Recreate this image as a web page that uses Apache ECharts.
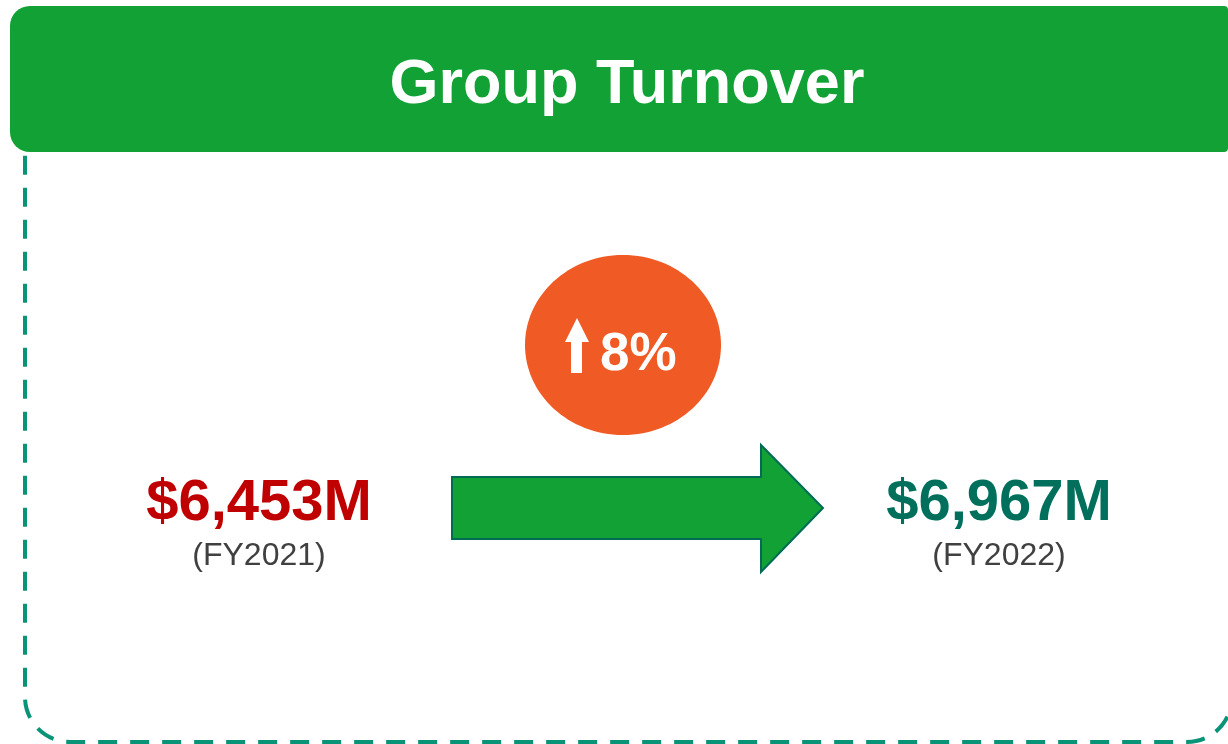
<!DOCTYPE html>
<html>
<head>
<meta charset="utf-8">
<title>Group Turnover</title>
<script src="https://cdn.jsdelivr.net/npm/echarts@6/dist/echarts.min.js"></script>
<style>
  html, body { margin: 0; padding: 0; background: #fff; }
  #main { width: 1228px; height: 744px; }
</style>
</head>
<body>
<div id="main"></div>
<script>
    // data
    var title = 'Group Turnover';
    var years = ['FY2021', 'FY2022'];
    var turnover = [6453, 6967];           // $M
    var growth = ['8%'];

    var font = '"Liberation Sans", Arial, sans-serif';
    var valueColors = ['#C00000', '#00705C'];
    var valueX = [259, 999];

    function money(v) {
        return '$' + v.toLocaleString('en-US') + 'M';
    }

    var chart = echarts.init(document.getElementById('main'), null, { renderer: 'canvas' });

    var elements = [
        // dashed frame (top part sits under the header)
        {
            type: 'rect',
            shape: { x: 25, y: 100, width: 1207, height: 642, r: 45 },
            style: { fill: 'none', stroke: '#0A9477', lineWidth: 4, lineDash: [19, 13] },
            z: 1
        },
        // header bar
        {
            type: 'rect',
            shape: { x: 10, y: 6, width: 1218, height: 146, r: [20, 4, 4, 20] },
            style: { fill: '#11A135' },
            z: 2
        },
        {
            type: 'text',
            x: 627, y: 86,
            style: {
                text: title, fill: '#fff', font: 'bold 63px ' + font,
                align: 'center', verticalAlign: 'middle'
            },
            z: 3
        },
        // growth badge
        {
            type: 'ellipse',
            shape: { cx: 623, cy: 345, rx: 98, ry: 90 },
            style: { fill: '#F05A24' },
            z: 2
        },
        {
            type: 'polygon',
            shape: { points: [[577, 318], [589, 342], [582, 342], [582, 373], [571, 373], [571, 342], [565, 342]] },
            style: { fill: '#fff' },
            z: 3
        },
        {
            type: 'text',
            x: 600, y: 355,
            style: {
                text: growth[0], fill: '#fff', font: 'bold 53px ' + font,
                align: 'left', verticalAlign: 'middle'
            },
            z: 3
        },
        // big arrow
        {
            type: 'polygon',
            shape: { points: [[452, 477], [761, 477], [761, 445], [823, 508], [761, 572], [761, 539], [452, 539]] },
            style: { fill: '#11A135', stroke: '#006B55', lineWidth: 2 },
            z: 2
        }
    ];

    for (var i = 0; i < years.length; i++) {
        elements.push({
            type: 'text',
            x: valueX[i], y: 504,
            style: {
                text: money(turnover[i]), fill: valueColors[i], font: 'bold 58px ' + font,
                align: 'center', verticalAlign: 'middle'
            },
            z: 3
        });
        elements.push({
            type: 'text',
            x: valueX[i], y: 556,
            style: {
                text: '(' + years[i] + ')', fill: '#404040', font: '32px ' + font,
                align: 'center', verticalAlign: 'middle'
            },
            z: 3
        });
    }

    chart.setOption({
        animation: false,
        graphic: { elements: elements }
    });
</script>
</body>
</html>
